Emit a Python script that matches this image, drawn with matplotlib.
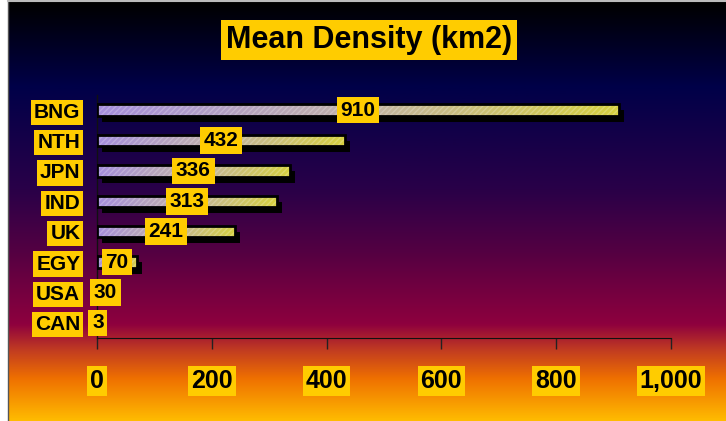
import matplotlib
matplotlib.use('Agg')
import matplotlib.pyplot as plt
import matplotlib.transforms as mtransforms
from matplotlib.colors import LinearSegmentedColormap
from matplotlib.ticker import FuncFormatter
import numpy as np

plt.rcParams['font.family'] = ['Liberation Sans', 'DejaVu Sans']
plt.rcParams['font.weight'] = 'bold'

countries = ['CAN', 'USA', 'EGY', 'UK', 'IND', 'JPN', 'NTH', 'BNG']
density = [3, 30, 70, 241, 313, 336, 432, 910]
xticks = [0, 200, 400, 600, 800, 1000]

YELLOW = '#ffcc00'

W, H = 726, 421
fig = plt.figure(figsize=(W / 100, H / 100), dpi=100)
fig.patch.set_facecolor('white')

# page background: vertical gradient, dark navy at the top to orange-yellow at the bottom
bg_cmap = LinearSegmentedColormap.from_list('bg', [
    (0.00, '#000000'),
    (0.20, '#000048'),
    (0.45, '#2a0048'),
    (0.60, '#550042'),
    (0.77, '#8e003e'),
    (0.83, '#c03a22'),
    (0.90, '#ef7000'),
    (1.00, '#ffbb00'),
])
bg = fig.add_axes([8 / W, 0, 1 - 8 / W, 1 - 2 / H])
bg.imshow(np.linspace(0, 1, 256)[:, None], aspect='auto', cmap=bg_cmap,
          extent=(0, 1, 0, 1), origin='upper')
bg.set_axis_off()
fig.add_artist(plt.Line2D([7.5 / W, 7.5 / W], [0, 1 - 2 / H], color='#555555', lw=1))
fig.add_artist(plt.Line2D([7.5 / W, 1], [1 - 1 / H, 1 - 1 / H], color='#bbbbbb', lw=1.5))

ax = fig.add_axes([97 / W, (H - 338) / H, 574 / W, 243 / H])
ax.patch.set_alpha(0)

y = np.arange(len(countries))
bh = 0.38

# drop shadow behind each bar
shadow = mtransforms.offset_copy(ax.transData, fig=fig, x=5, y=-6, units='dots')
ax.barh(y, density, height=bh, color='black', transform=shadow, zorder=2)

# bar body: lavender to yellow gradient, clipped to the bar outline
bar_cmap = LinearSegmentedColormap.from_list('bar', ['#a68fdc', '#c2b3a8', '#d6d040'])
bars = ax.barh(y, density, height=bh, color='none', edgecolor='black', lw=2, zorder=4)
for b, v in zip(bars, density):
    im = ax.imshow(np.linspace(0, 1, 64)[None, :], cmap=bar_cmap, aspect='auto',
                   extent=(0, v, b.get_y(), b.get_y() + bh), zorder=3)
    im.set_clip_path(b)
ax.barh(y, density, height=bh, color='none', edgecolor=(1, 1, 1, 0.22),
        hatch='//////', lw=0, zorder=3.5)

for yi, v in zip(y, density):
    ax.text(v / 2, yi, f'{v}', ha='center', va='center', fontsize=15,
            fontweight='bold', color='black', zorder=6,
            bbox=dict(boxstyle='square,pad=0.18', fc=YELLOW, ec='none'))

ax.set_xlim(0, 1000)
ax.set_ylim(-0.5, len(countries) - 0.5)
ax.set_xticks(xticks)
ax.xaxis.set_major_formatter(FuncFormatter(lambda v, p: f'{int(v):,}'))
ax.set_yticks(y)
ax.set_yticklabels(countries)

ax.tick_params(axis='x', direction='out', length=8, width=1, color='#222222',
               pad=14, labelsize=18)
ax.tick_params(axis='y', length=0, pad=12, labelsize=15)
for lab in ax.get_xticklabels():
    lab.set_fontweight('bold')
    lab.set_bbox(dict(boxstyle='square,pad=0.12', fc=YELLOW, ec='none'))
for lab in ax.get_yticklabels():
    lab.set_fontweight('bold')
    lab.set_bbox(dict(boxstyle='square,pad=0.15', fc=YELLOW, ec='none'))

for s in ['top', 'right']:
    ax.spines[s].set_visible(False)
ax.spines['bottom'].set_color('#111111')
ax.spines['left'].set_color('#111111')
ax.spines['left'].set_linewidth(1)

fig.text(369 / W, 1 - 40 / H, 'Mean Density (km2)', ha='center', va='center',
         fontsize=22, fontweight='bold', color='black',
         bbox=dict(boxstyle='square,pad=0.16', fc=YELLOW, ec='none'))

fig.savefig('out.png', dpi=100, facecolor=fig.get_facecolor())
